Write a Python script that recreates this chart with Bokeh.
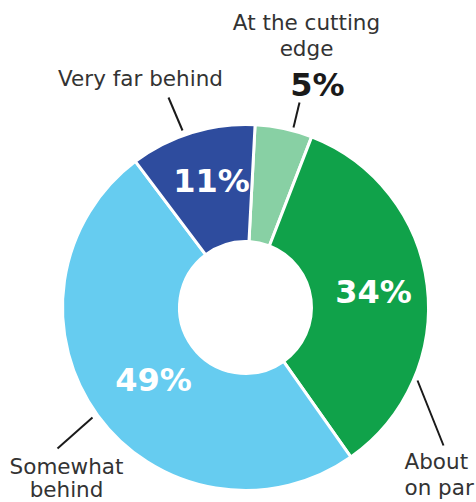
import numpy as np
from bokeh.plotting import figure
from bokeh.models import Range1d
from bokeh.core.properties import value
from bokeh.embed import file_html
from bokeh.resources import INLINE

# ---- data ----
categories = ["At the cutting edge", "About on par", "Somewhat behind", "Very far behind"]
percents = [5, 34, 49, 11]
pct_labels = ["5%", "34%", "49%", "11%"]
colors = ["#88D0A4", "#10A24A", "#66CCF0", "#2E4C9E"]

W, H = 476, 502
p = figure(width=W, height=H, output_backend="svg", toolbar_location=None,
           x_range=Range1d(0, W), y_range=Range1d(0, H), min_border=0)
p.axis.visible = False
p.grid.visible = False
p.outline_line_color = None
p.background_fill_color = "white"

def Y(y):
    return H - y

cx, cy = 245, Y(307)
r_out, r_in = 183, 66
offset = np.deg2rad(3)

vals = np.array(percents, dtype=float)
fr = vals / vals.sum()
cum = np.concatenate([[0], np.cumsum(fr)[:-1]])
start = np.pi / 2 - offset - cum * 2 * np.pi
end = start - fr * 2 * np.pi

p.annular_wedge(x=cx, y=cy, inner_radius=r_in, outer_radius=r_out,
                start_angle=start, end_angle=end, direction="clock",
                fill_color=colors, line_color="white", line_width=3)

# percentage labels (positions are layout)
pct_pos = [(317, 84), (373, 291), (153, 379), (211, 180)]
pct_col = ["#1a1a1a", "white", "white", "white"]
for (x, y), t, c in zip(pct_pos, pct_labels, pct_col):
    p.text(x=[x], y=[Y(y)], text=[t], text_color=c, text_font=value("DejaVu Sans"),
           text_font_style="bold", text_font_size="32px",
           text_align="center", text_baseline="middle")

txt = "#333333"
fs = "21.5px"
font = value("DejaVu Sans")
# category labels
cat_layout = [
    (["At the cutting", "edge"], 306, [22, 48], "center"),
    (["About", "on par"], 404, [461, 487], "left"),
    (["Somewhat", "behind"], 66, [466, 489], "center"),
    (["Very far behind"], 140, [78], "center"),
]
for lines, x, ys, al in cat_layout:
    for ln, y in zip(lines, ys):
        p.text(x=[x], y=[Y(y)], text=[ln], text_color=txt, text_font=font,
               text_font_size=fs, text_align=al, text_baseline="middle")

# leader lines
leaders = [((299, 102), (293, 127)), ((417, 380), (443, 445)),
           ((92, 417), (57, 448)), ((168, 97), (182, 130))]
for (x0, y0), (x1, y1) in leaders:
    p.line([x0, x1], [Y(y0), Y(y1)], line_color="#1a1a1a", line_width=2)

open("out.html", "w").write(file_html(p, INLINE))
